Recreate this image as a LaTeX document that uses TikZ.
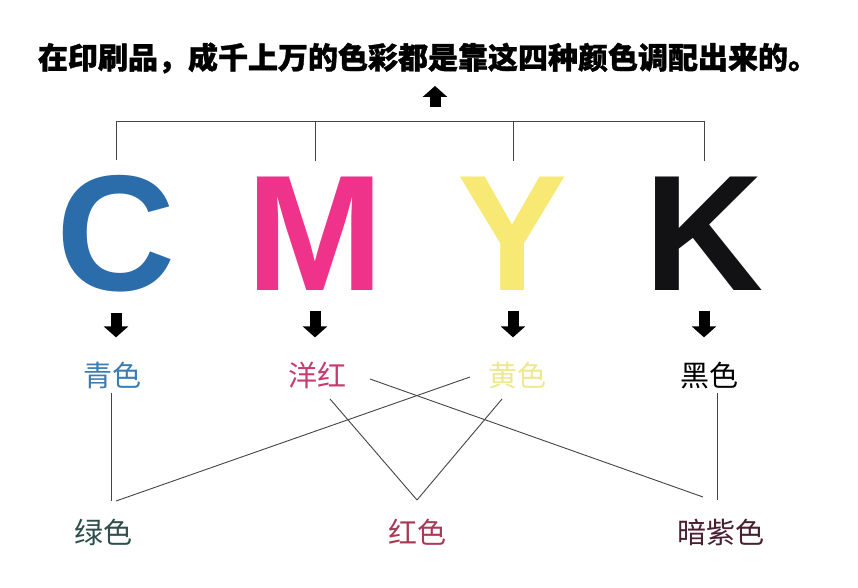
\documentclass[tikz,border=0pt]{standalone}
\usepackage{fontspec}
\usepackage{xcolor}
\usetikzlibrary{arrows.meta}
\newfontfamily\cjk{Noto Sans CJK SC}
\newfontfamily\cjktitle{Noto Sans CJK SC}[BoldFeatures={FakeBold=1.2}]
\newfontfamily\letterfont{Liberation Sans}
\definecolor{inkC}{HTML}{2B6CAB}
\definecolor{inkM}{HTML}{F0338A}
\definecolor{inkY}{HTML}{F8E874}
\definecolor{inkK}{HTML}{121114}
\definecolor{txtC}{HTML}{3B7DB0}
\definecolor{txtM}{HTML}{C83A70}
\definecolor{txtY}{HTML}{EEE88E}
\definecolor{txtG}{HTML}{2E4F4C}
\definecolor{txtR}{HTML}{A83A55}
\definecolor{txtV}{HTML}{4A2030}
\definecolor{lineGray}{HTML}{444444}
\tikzset{
  letter/.style = {inner sep=0pt, anchor=base, font=\letterfont\bfseries\fontsize{165}{165}\selectfont},
  clabel/.style = {inner sep=0pt, font=\cjk\fontsize{29}{29}\selectfont},
  link/.style = {draw=lineGray, line width=0.9pt},
  bigarrow/.style = {draw=black, line width=11pt, -{Triangle[length=11pt,width=24pt]}}
}

\begin{document}
\begin{tikzpicture}[x=1pt, y=-1pt]
	  \fill[white] (0,0) rectangle (858,588);
	  \useasboundingbox (0,0) rectangle (858,588);
	  % 标题
	  \node[font=\cjktitle\bfseries\fontsize{30}{30}\selectfont] (title) at (428,58) {在印刷品，成千上万的色彩都是靠这四种颜色调配出来的。};
	  % 四个字母
	  \node[letter, inkC] (cC) at (116,290) {C};
	  \node[letter, inkM] (cM) at (315,290) {M};
	  \node[letter, inkY] (cY) at (513,290) {Y};
	  \node[letter, inkK] (cK) at (704,290) {K};
	  % 括线
	  \coordinate (bar) at (435,121);
	  \foreach \n in {cC,cM,cY,cK}
	    \draw[link] ([yshift=15pt]\n.north) -- (\n.north |- bar);
	  \draw[link] (cC.north |- bar) -- (cK.north |- bar);
	  \draw[bigarrow, shorten <=14pt, shorten >=9pt] (bar) -- (bar |- title.south);
	  % 颜色名称
	  \node[clabel, txtC] (lC) at (112,375) {青色};
	  \node[clabel, txtM] (lM) at (317,375) {洋红};
	  \node[clabel, txtY] (lY) at (517,375) {黄色};
	  \node[clabel, black] (lK) at (709,375) {黑色};
	  \foreach \n/\m in {cC/lC,cM/lM,cY/lY,cK/lK}
	    \draw[bigarrow, shorten <=21pt, shorten >=24pt] (\n.south) -- (\n.south |- \m.north);
	  % 混合色
	  \node[clabel, txtG] (mixG) at (103,532) {绿色};
	  \node[clabel, txtR] (mixR) at (417,532) {红色};
	  \node[clabel, txtV] (mixV) at (721,532) {暗紫色};
	  % 连线
	  \draw[link] ([shift={(-1,18)}]lC.center) -- ([shift={(8,-31)}]mixG.center);
	  \draw[link] ([shift={(-47,2)}]lY.center) -- ([shift={(13,-31)}]mixG.center);
	  \draw[link] ([shift={(-15,24)}]lY.center) -- ([shift={(0,-32)}]mixR.center);
	  \draw[link] ([shift={(13,24)}]lM.center) -- ([shift={(0,-32)}]mixR.center);
	  \draw[link] ([shift={(53,4)}]lM.center) -- ([shift={(-18,-35)}]mixV.center);
	  \draw[link] ([shift={(8,18)}]lK.center) -- ([shift={(-4,-32)}]mixV.center);
	\end{tikzpicture}
\end{document}
